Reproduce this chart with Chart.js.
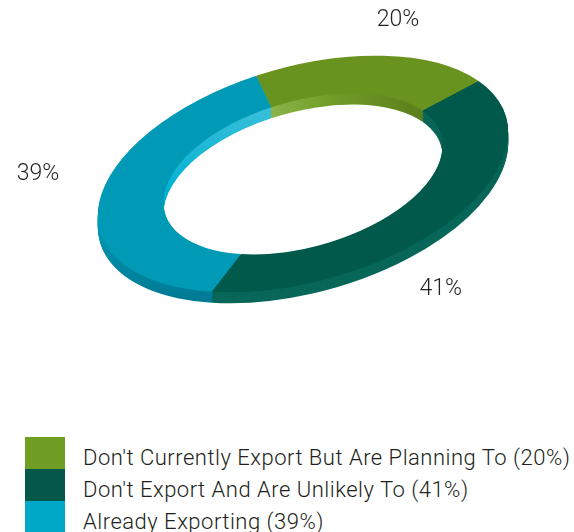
<!DOCTYPE html>
<html>
<head>
<meta charset="utf-8">
<script src="https://cdn.jsdelivr.net/npm/chart.js@4.4.1/dist/chart.umd.min.js"></script>
<style>
  html, body { margin: 0; padding: 0; background: #fff; }
  body { width: 574px; height: 532px; position: relative; overflow: hidden; font-family: Roboto, "Liberation Sans", Arial, sans-serif; font-weight: 300; }
  #ringWrap { position: absolute; left: 0; top: 0; width: 574px; height: 420px; }
  #legend { position: absolute; left: 25px; top: 437px; }
  .legend-row { height: 32px; display: flex; align-items: center; }
  .swatch { width: 40px; height: 32px; flex: none; }
  .legend-text { margin-left: 18px; font-size: 22px; letter-spacing: 0.5px; color: #231f20; position: relative; top: 4px; white-space: nowrap; }
</style>
</head>
<body>
<div id="ringWrap"><canvas id="exportRing"></canvas></div>
<div id="legend"></div>
<script>
// ---- data ----
const categories = ["Don't Currently Export But Are Planning To", "Don't Export And Are Unlikely To", "Already Exporting"];
const shares = [20, 41, 39];

// ---- colours ----
const topColors = ['#68931f', '#00594b', '#0099b6'];
const swatchColors = ['#6f9e24', '#03584a', '#00a8c8'];

// ---- ring geometry (on-screen ellipse) ----
const ringShape = { centerX: 303, centerY: 174, radius: 211, tilt: 15.7, squash: 0.51, depth: 11 };
// where the % labels sit: angle nudge (deg) from the slice middle, distance as a multiple of the outer radius
const labelPlacement = [{ shift: -2, reach: 1.30 }, { shift: 20, reach: 1.46 }, { shift: 14, reach: 1.38 }];

function applyTilt(ctx, arc, lift) {
    const k = ringShape.radius / arc.outerRadius;
    ctx.translate(ringShape.centerX, ringShape.centerY + lift);
    ctx.rotate(-ringShape.tilt * Math.PI / 180);
    ctx.scale(k, k * ringShape.squash);
    ctx.translate(-arc.x, -arc.y);
}

// linear gradient whose stripes run across the screen direction (x1,y1)->(x2,y2), even under a transform
function screenGradient(ctx, x1, y1, x2, y2, stops) {
    const m = ctx.getTransform();
    const inv = m.inverse();
    const L = Math.hypot(x2 - x1, y2 - y1);
    const nx = (x2 - x1) / L, ny = (y2 - y1) / L;
    const gx = m.a * nx + m.b * ny, gy = m.c * nx + m.d * ny;
    const g2 = gx * gx + gy * gy;
    const p1 = inv.transformPoint(new DOMPoint(x1, y1));
    const p2x = p1.x + gx / g2 * L, p2y = p1.y + gy / g2 * L;
    const grad = ctx.createLinearGradient(p1.x, p1.y, p2x, p2y);
    stops.forEach(s => grad.addColorStop(s[0], s[1]));
    return grad;
}

// side wall fills, one per slice
const wallFills = [
    ctx => screenGradient(ctx, 265, 0, 430, 0, [[0, '#8db64e'], [0.35, '#74a02a'], [1, '#587c1b']]),
    ctx => '#086759',
    ctx => screenGradient(ctx, 0, 95, 0, 305, [[0, '#43c0da'], [0.45, '#00b2d3'], [0.7, '#0090ac'], [1, '#007893']])
];

function arcGeom(arc) {
    return arc.getProps(['x', 'y', 'startAngle', 'endAngle', 'innerRadius', 'outerRadius'], true);
}

const tiltedRing = {
    id: 'tiltedRing',
    beforeDatasetsDraw(chart) {
        const ctx = chart.ctx;
        const arcs = chart.getDatasetMeta(0).data.map(arcGeom);
        // extruded walls, drawn from the bottom layer up
        for (let d = ringShape.depth; d >= 1; d--) {
            arcs.forEach((a, i) => {
                ctx.save();
                applyTilt(ctx, a, d);
                ctx.fillStyle = wallFills[i](ctx);
                ctx.beginPath();
                ctx.arc(a.x, a.y, a.outerRadius, a.startAngle, a.endAngle);
                ctx.arc(a.x, a.y, a.innerRadius, a.endAngle, a.startAngle, true);
                ctx.closePath();
                ctx.fill();
                ctx.restore();
            });
        }
        // top face is drawn by the controller under the same tilt
        ctx.save();
        applyTilt(ctx, arcs[0], 0);
    },
    afterDatasetsDraw(chart) {
        chart.ctx.restore();
    },
    afterDraw(chart) {
        const ctx = chart.ctx;
        chart.getDatasetMeta(0).data.forEach((el, i) => {
            const a = arcGeom(el);
            const p = labelPlacement[i];
            const ang = (a.startAngle + a.endAngle) / 2 + p.shift * Math.PI / 180;
            ctx.save();
            applyTilt(ctx, a, 0);
            const pt = ctx.getTransform().transformPoint(new DOMPoint(a.x + Math.cos(ang) * a.outerRadius * p.reach, a.y + Math.sin(ang) * a.outerRadius * p.reach));
            ctx.restore();
            ctx.save();
            ctx.font = '300 23px Roboto, "Liberation Sans", Arial, sans-serif';
            ctx.fillStyle = '#231f20';
            ctx.textAlign = 'center';
            ctx.textBaseline = 'middle';
            ctx.fillText(shares[i] + '%', pt.x, pt.y);
            ctx.restore();
        });
    }
};

new Chart(document.getElementById('exportRing'), {
    type: 'doughnut',
    data: {
        labels: categories,
        datasets: [{
            data: shares,
            backgroundColor: topColors,
            borderWidth: 0,
            clip: false
        }]
    },
    options: {
        responsive: true,
        maintainAspectRatio: false,
        animation: false,
        cutout: '68%',
        rotation: -5,
        layout: { padding: 0 },
        plugins: { legend: { display: false }, tooltip: { enabled: false } }
    },
    plugins: [tiltedRing]
});

// ---- legend ----
const legendEl = document.getElementById('legend');
categories.forEach((name, i) => {
    const row = document.createElement('div');
    row.className = 'legend-row';
    row.innerHTML = '<div class="swatch" style="background:' + swatchColors[i] + '"></div><span class="legend-text"></span>';
    row.querySelector('.legend-text').textContent = name + ' (' + shares[i] + '%)';
    legendEl.appendChild(row);
});
</script>
</body>
</html>
